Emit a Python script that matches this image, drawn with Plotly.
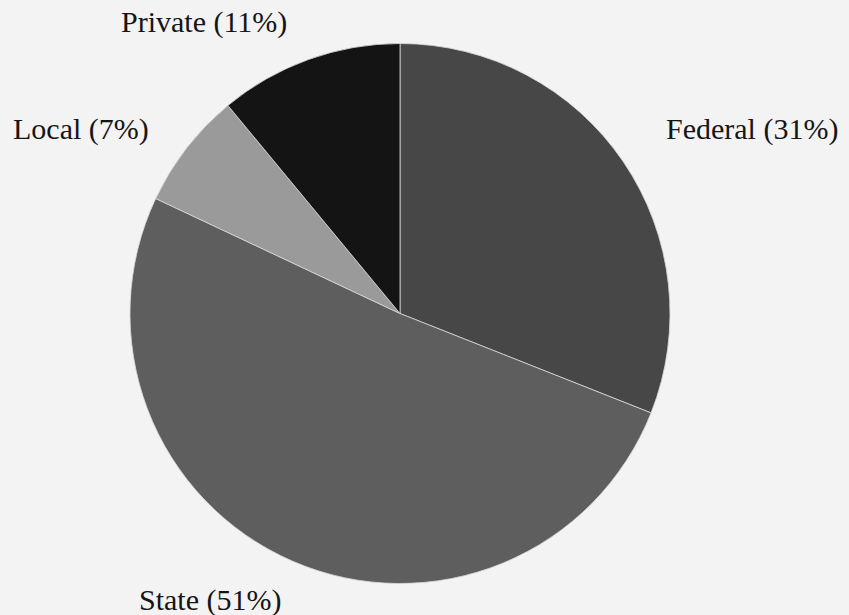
import plotly.graph_objects as go

# Funding sources, drawn clockwise from 12 o'clock
sources = ["Federal", "State", "Local", "Private"]
shares = [31, 51, 7, 11]
slice_colors = ["#474747", "#5e5e5e", "#9a9a9a", "#141414"]

# Label anchor points (paper coordinates) for each source
label_x = [0.886, 0.247, 0.095, 0.240]
label_y = [0.790, 0.024, 0.790, 0.965]

W, H = 849, 615
pie_left, pie_right, pie_top, pie_bottom = 130, 670, 42, 585

fig = go.Figure(
    go.Pie(
        labels=sources,
        values=shares,
        sort=False,
        direction="clockwise",
        rotation=0,
        textinfo="none",
        hoverinfo="label+percent",
        marker=dict(colors=slice_colors, line=dict(color="#d8d8d8", width=0.8)),
        domain=dict(
            x=[pie_left / W, pie_right / W],
            y=[1 - pie_bottom / H, 1 - pie_top / H],
        ),
        showlegend=False,
    )
)

for name, share, lx, ly in zip(sources, shares, label_x, label_y):
    fig.add_annotation(
        x=lx, y=ly, xref="paper", yref="paper",
        text=f"{name} ({share}%)",
        showarrow=False,
        xanchor="center", yanchor="middle",
        font=dict(family="Liberation Serif, Times New Roman, serif", size=30, color="#151515"),
    )

fig.update_layout(
    width=W, height=H,
    margin=dict(l=0, r=0, t=0, b=0),
    paper_bgcolor="#f3f3f3",
    plot_bgcolor="#f3f3f3",
)

fig.write_html("out.html")
